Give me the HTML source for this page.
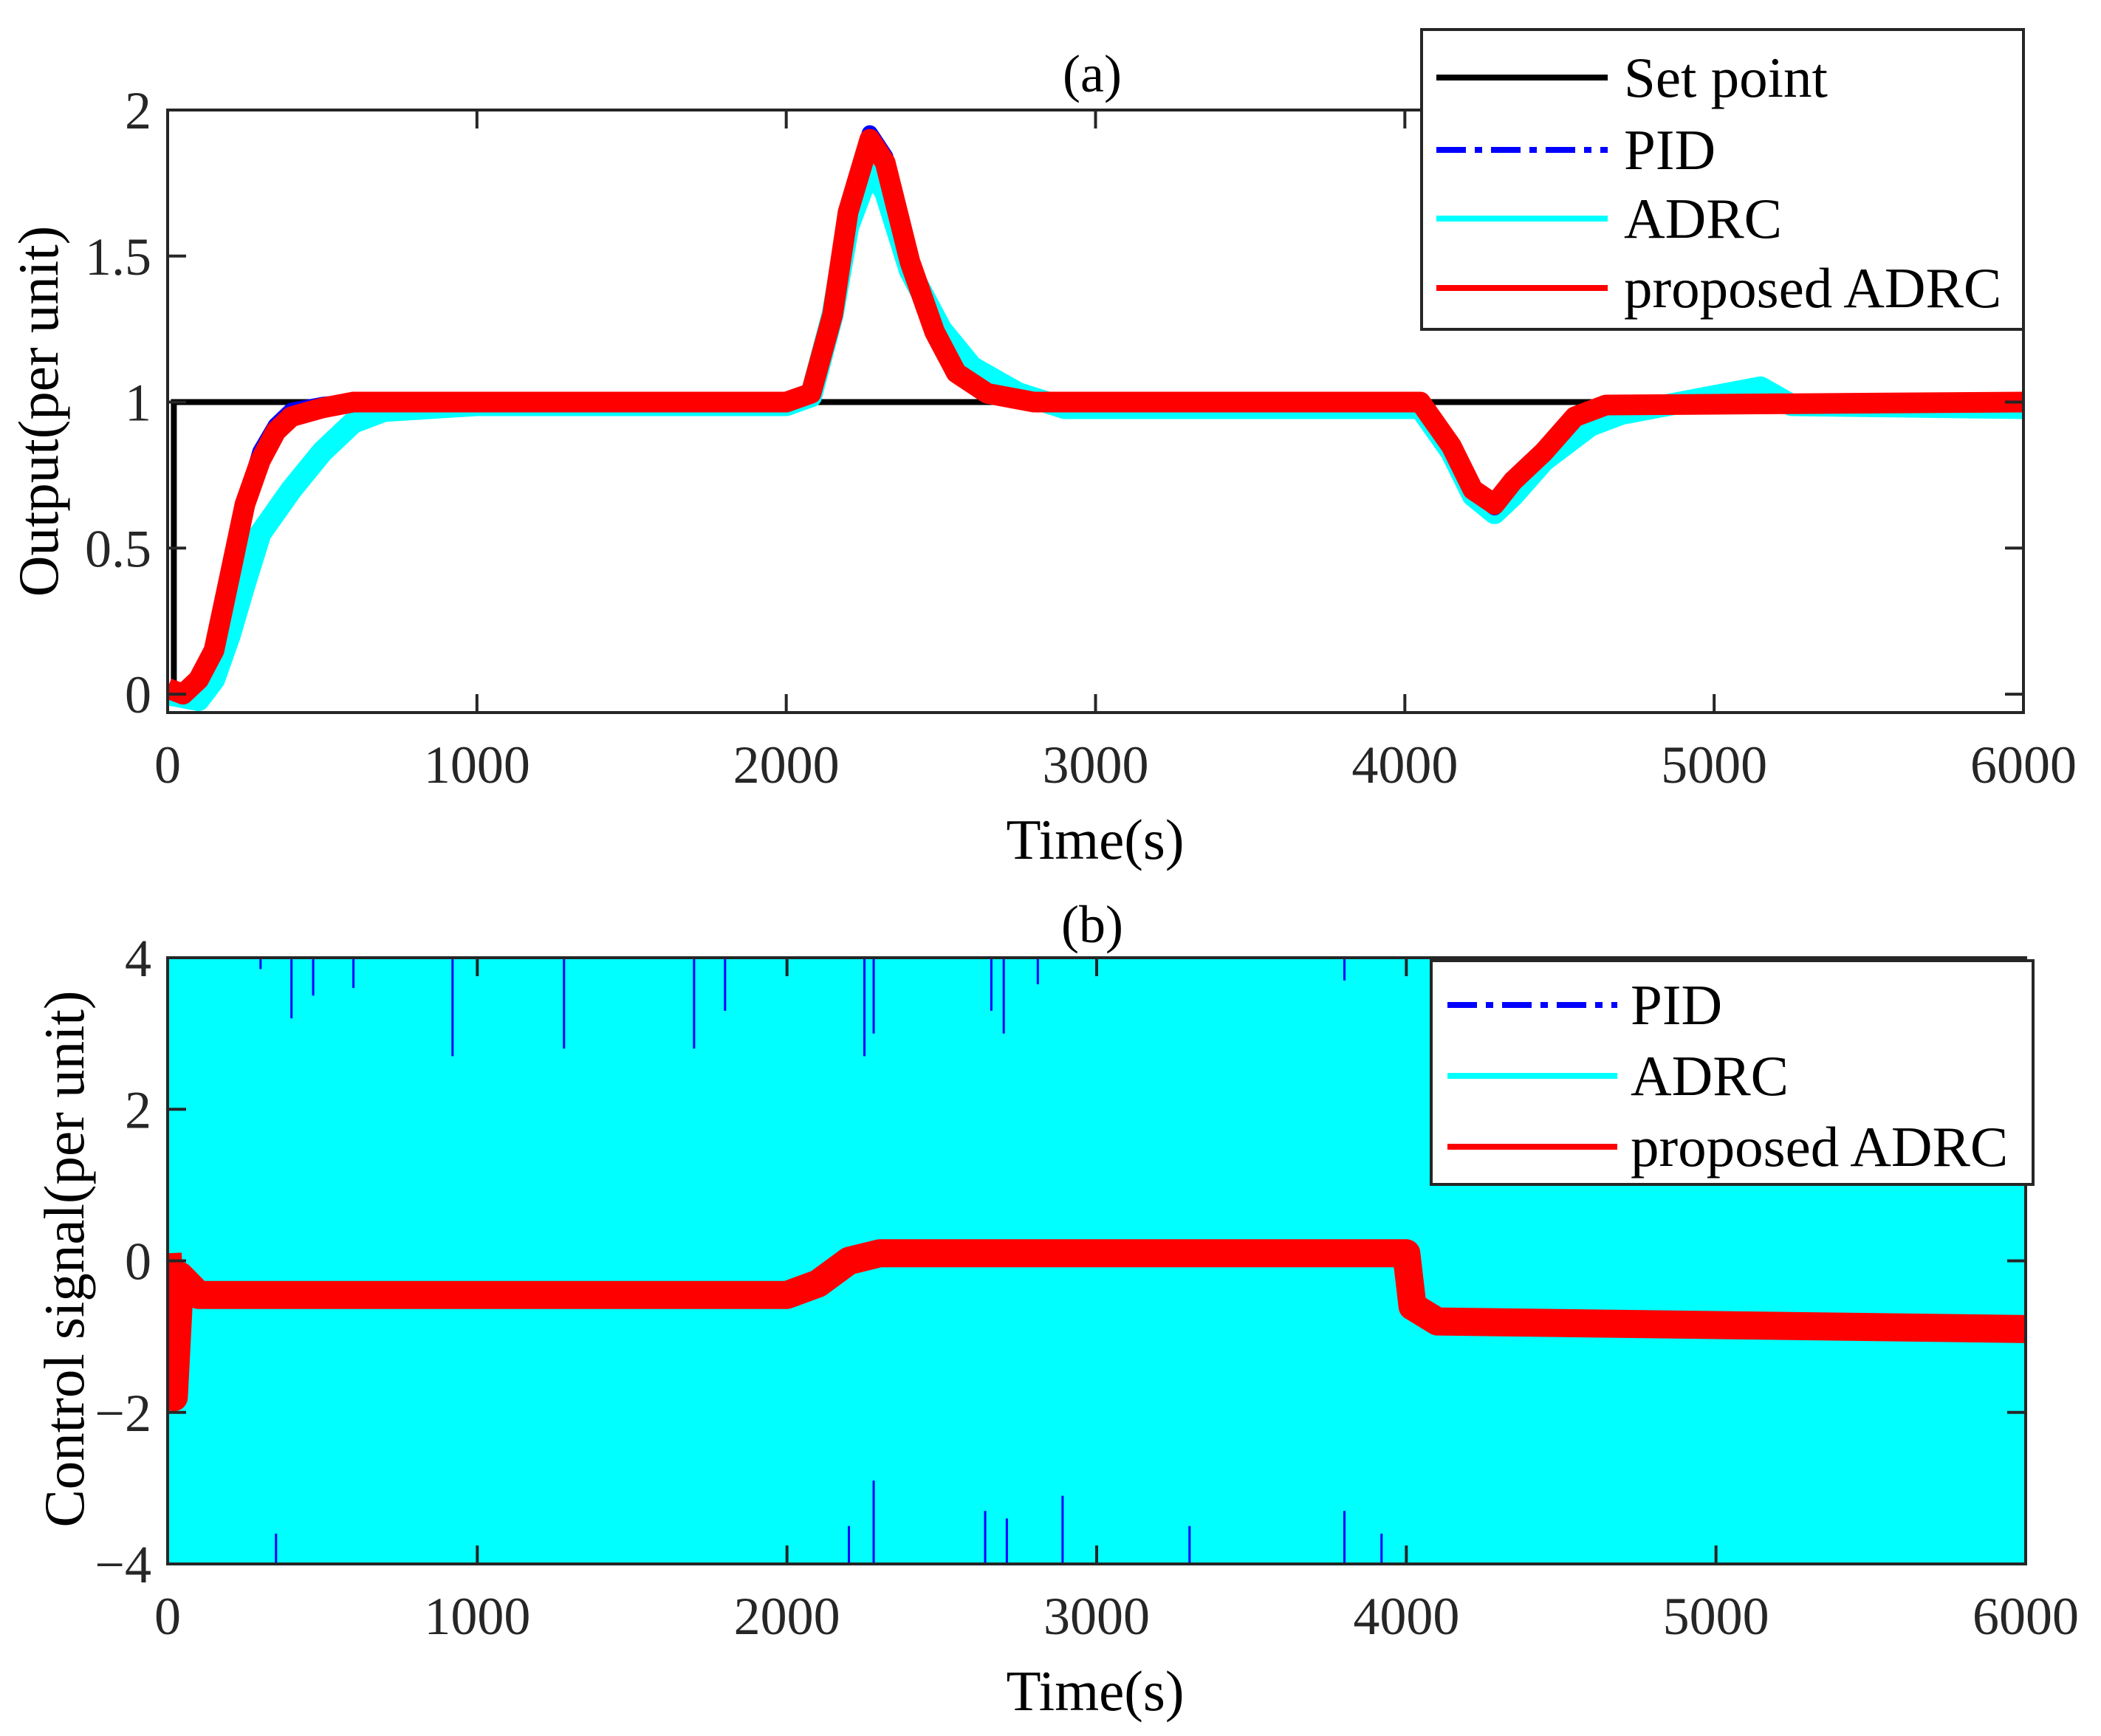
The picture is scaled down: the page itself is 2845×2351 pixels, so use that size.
<!DOCTYPE html>
<html><head><meta charset="utf-8"><style>
html,body{margin:0;padding:0;background:#fff}
svg{display:block;font-family:"Liberation Serif",serif}
</style></head><body>
<svg id="fig" width="2845" height="2351" viewBox="0 0 2845 2351" xmlns="http://www.w3.org/2000/svg"></svg>
<script>
// ---- data (a) ----
const setT=[0,20,20,6000];
const setV=[0,0,1,1];
const pidT=[0,50,100,150,200,250,300,350,400,500,600,2000,2080,2150,2200,2270,2320,2400,2480,2550,2650,2800,4050,4150,4220,4290,4350,4450,4550,4650,6000];
const pidV=[0.02,0,0.05,0.15,0.4,0.65,0.83,0.92,0.97,0.99,1.0,1.0,1.03,1.3,1.65,1.92,1.84,1.5,1.25,1.1,1.03,1.0,1.0,0.85,0.7,0.64,0.72,0.82,0.95,0.99,1.0];
const adrcT=[0,100,150,200,250,300,400,500,600,700,1000,2000,2080,2150,2200,2270,2320,2400,2500,2600,2750,2900,4050,4150,4220,4290,4350,4450,4600,4700,5150,5250,6000];
const adrcV=[0,-0.02,0.05,0.2,0.38,0.55,0.7,0.83,0.93,0.97,0.99,0.99,1.02,1.3,1.6,1.8,1.72,1.45,1.25,1.12,1.03,0.98,0.98,0.83,0.68,0.62,0.68,0.8,0.92,0.96,1.05,0.99,0.98];
const propT=[0,50,100,150,200,250,300,350,400,500,600,2000,2080,2150,2200,2270,2320,2400,2480,2550,2650,2800,4050,4150,4220,4290,4350,4450,4550,4650,6000];
const propV=[0.02,0,0.05,0.15,0.4,0.65,0.8,0.9,0.95,0.98,1.0,1.0,1.03,1.3,1.65,1.9,1.82,1.48,1.24,1.1,1.03,1.0,1.0,0.85,0.7,0.65,0.73,0.83,0.95,0.99,1.0];
const xTicks=[0,1000,2000,3000,4000,5000,6000];
const yTicksA=[0,0.5,1,1.5,2];
const yTickLabelsA=["0","0.5","1","1.5","2"];
// ---- data (b) ----
const ctrlT=[0,10,20,40,100,2000,2100,2200,2300,4000,4020,4100,6000];
const ctrlV=[0.1,-0.8,-1.8,-0.2,-0.45,-0.45,-0.3,0.0,0.1,0.1,-0.6,-0.8,-0.9];
const adrcUHigh=4, adrcULow=-4;
const spikeTopT=[300,400,470,600,920,1280,1700,1800,2250,2280,2660,2700,2810,3800];
const spikeTopV=[3.85,3.2,3.5,3.6,2.7,2.8,2.8,3.3,2.7,3.0,3.3,3.0,3.65,3.7];
const spikeBotT=[350,2200,2280,2640,2710,2890,3300,3800,3920];
const spikeBotV=[-3.6,-3.5,-2.9,-3.3,-3.4,-3.1,-3.5,-3.3,-3.6];
const yTicksB=[-4,-2,0,2,4];
const yTickLabelsB=["\u22124","\u22122","0","2","4"];

const NS="http://www.w3.org/2000/svg";
const svg=document.getElementById('fig');
function mk(tag,attrs,parent){const e=document.createElementNS(NS,tag);for(const k in attrs)e.setAttribute(k,attrs[k]);(parent||svg).appendChild(e);return e;}
function txt(s,attrs,parent){const e=mk('text',attrs,parent);e.textContent=s;return e;}

function axes(L,R,T,B,y0,y1){return {x:t=>L+(t-0)/(6000-0)*(R-L),y:v=>B-(v-y0)/(y1-y0)*(B-T),L,R,T,B};}
function pathOf(ax,ts,vs){return ts.map((t,i)=>(i?'L':'M')+ax.x(t).toFixed(1)+' '+ax.y(vs[i]).toFixed(1)).join(' ');}

function frame(ax,yt,ylab,g){
  const {L,R,T,B}=ax;
  for(const t of xTicks){const x=ax.x(t);
    let l=mk('line',{x1:x,y1:B,x2:x,y2:B-25,stroke:'#262626','stroke-width':4},g);
    
    l=mk('line',{x1:x,y1:T,x2:x,y2:T+25,stroke:'#262626','stroke-width':4},g);
    
    const e=txt(String(t),{x:x,y:B+95,'font-size':72,'text-anchor':'middle',fill:'#262626'},g);
    }
  yt.forEach((v,i)=>{const y=ax.y(v);
    let l=mk('line',{x1:L,y1:y,x2:L+25,y2:y,stroke:'#262626','stroke-width':4},g);
    
    l=mk('line',{x1:R,y1:y,x2:R-25,y2:y,stroke:'#262626','stroke-width':4},g);
    
    const e=txt(ylab[i],{x:L-22,y:y+25,'font-size':72,'text-anchor':'end',fill:'#262626'},g);
    });
  const r=mk('rect',{x:L,y:T,width:R-L,height:B-T,fill:'none',stroke:'#262626','stroke-width':4},g);
  
}

function legend(x,y,w,h,items,g){
  const r=mk('rect',{x:x,y:y,width:w,height:h,fill:'#fff',stroke:'#262626','stroke-width':4},g);
  
  items.forEach(it=>{
    const ge=mk('g',{},g);
    
    const a={x1:it.lx1,y1:it.y,x2:it.lx2,y2:it.y,stroke:it.c,'stroke-width':it.w};
    if(it.dash)a['stroke-dasharray']=it.dash;
    const l=mk('line',a,ge);
    const t=txt(it.s,{x:it.tx,y:it.y+26,'font-size':77,fill:'#000'},ge);
    
  });
}

// ---------- Panel (a) ----------
const gA=mk('g',{});
const A=axes(227,2740,149,965,-0.063,2);
const cp=mk('clipPath',{id:'ca'},gA);
mk('rect',{x:A.L,y:A.T,width:A.R-A.L,height:A.B-A.T},cp);
const pa=mk('g',{'clip-path':'url(#ca)'},gA);
let p=mk('path',{d:pathOf(A,setT,setV),fill:'none',stroke:'#000','stroke-width':8},pa);

p=mk('path',{d:pathOf(A,adrcT,adrcV),fill:'none',stroke:'#00ffff','stroke-width':30,'stroke-linejoin':'round'},pa);

p=mk('path',{d:pathOf(A,pidT,pidV),fill:'none',stroke:'#0000ff','stroke-width':22,'stroke-linejoin':'round'},pa);

p=mk('path',{d:pathOf(A,propT,propV),fill:'none',stroke:'#ff0000','stroke-width':28,'stroke-linejoin':'round'},pa);

frame(A,yTicksA,yTickLabelsA,gA);
let t=txt('(a)',{x:1479,y:124,'font-size':72,'text-anchor':'middle'},gA);

t=txt('Time(s)',{x:1483,y:1163,'font-size':77,'text-anchor':'middle'},gA);

t=txt('Output(per unit)',{x:0,y:0,'font-size':77,'text-anchor':'middle',transform:'translate(78,557) rotate(-90)'},gA);

legend(1925,40,815,406,[
 {s:'Set point',c:'#000',w:8,lx1:1945,lx2:2177,tx:2199,y:105},
 {s:'PID',c:'#0000ff',w:8,dash:'40 12 10 12',lx1:1945,lx2:2177,tx:2199,y:203},
 {s:'ADRC',c:'#00ffff',w:8,lx1:1945,lx2:2177,tx:2199,y:296},
 {s:'proposed ADRC',c:'#ff0000',w:8,lx1:1945,lx2:2177,tx:2199,y:390}],gA);

// ---------- Panel (b) ----------
const gB=mk('g',{});
const Bx=axes(227,2743,1297,2118,-4,4);
const ar=mk('rect',{x:Bx.x(0),y:Bx.y(adrcUHigh),width:Bx.x(6000)-Bx.x(0),height:Bx.y(adrcULow)-Bx.y(adrcUHigh),fill:'#00ffff'},gB);

spikeTopT.forEach((s,i)=>{const l=mk('line',{x1:Bx.x(s),y1:Bx.y(4),x2:Bx.x(s),y2:Bx.y(spikeTopV[i]),stroke:'#0000ff','stroke-width':3},gB);
 });
spikeBotT.forEach((s,i)=>{const l=mk('line',{x1:Bx.x(s),y1:Bx.y(-4),x2:Bx.x(s),y2:Bx.y(spikeBotV[i]),stroke:'#0000ff','stroke-width':3},gB);
 });
const cpb=mk('clipPath',{id:'cb'},gB);
mk('rect',{x:Bx.L,y:Bx.T,width:Bx.R-Bx.L,height:Bx.B-Bx.T},cpb);
p=mk('path',{d:pathOf(Bx,ctrlT,ctrlV),fill:'none',stroke:'#ff0000','stroke-width':38,'stroke-linejoin':'round','clip-path':'url(#cb)'},gB);

frame(Bx,yTicksB,yTickLabelsB,gB);
t=txt('(b)',{x:1479,y:1276,'font-size':72,'text-anchor':'middle'},gB);

t=txt('Time(s)',{x:1483,y:2316,'font-size':77,'text-anchor':'middle'},gB);

t=txt('Control signal(per unit)',{x:0,y:0,'font-size':77,'text-anchor':'middle',transform:'translate(113,1705) rotate(-90)'},gB);

legend(1938,1301,815,303,[
 {s:'PID',c:'#0000ff',w:8,dash:'40 12 10 12',lx1:1960,lx2:2190,tx:2208,y:1361},
 {s:'ADRC',c:'#00ffff',w:8,lx1:1960,lx2:2190,tx:2208,y:1457},
 {s:'proposed ADRC',c:'#ff0000',w:8,lx1:1960,lx2:2190,tx:2208,y:1553}],gB);
</script>
</body></html>
